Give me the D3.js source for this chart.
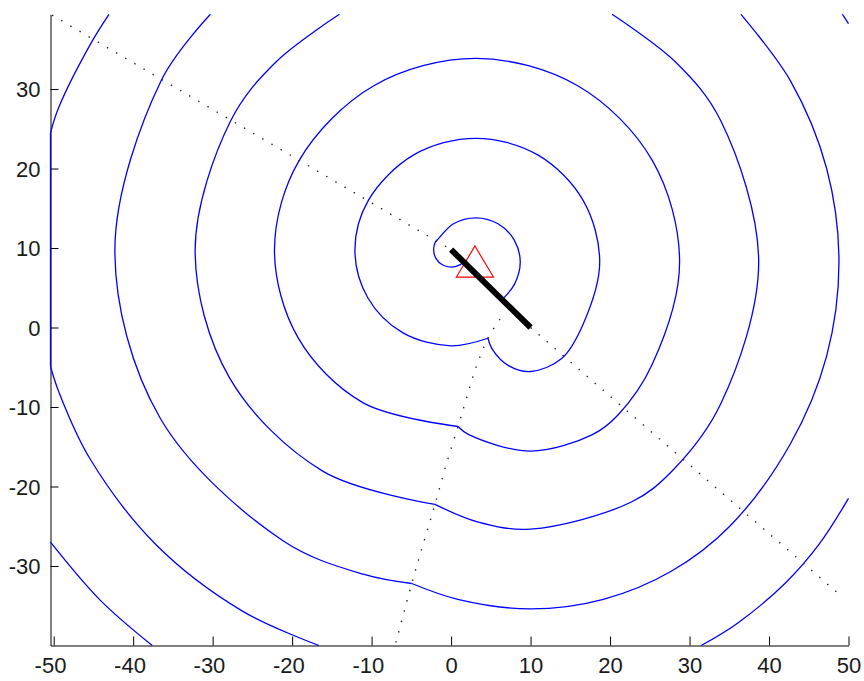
<!DOCTYPE html>
<html>
<head>
<meta charset="utf-8">
<script src="https://cdn.jsdelivr.net/npm/d3@7"></script>
<style>
  html, body { margin: 0; padding: 0; background: #fff; }
  svg { display: block; }
</style>
</head>
<body>
<svg id="chart" width="864" height="681"></svg>
<script>
// ---------------- data ----------------
const xLimits = [-50.4, 50];
const yLimits = [-40, 39.4];
const xTicks = [-50, -40, -30, -20, -10, 0, 10, 20, 30, 40, 50];
const yTicks = [-30, -20, -10, 0, 10, 20, 30];

// thick black segment
const faultLine = [[0, 9.8], [10, 0]];
// red triangle marker
const sourcePoint = [3, 8.3];

// dotted lines
const dottedUpper = [[-50.2, 39.3], [0, 9.8]];
const dottedLowerRight = [[10, 0], [49, -33.7]];
const dottedLower = [[6.15, 1.05], [4.64, -1.35], [3.0, -5.4], [1.87, -9.15], [0.87, -12.45],
  [-0.64, -17.3], [-2.03, -22.25], [-3.5, -27.2], [-4.95, -32.2], [-6.93, -39.6]];

// blue contour lines (each contour = list of pieces)
const contour1 = [[
  [6.35, 3.45], [7.95, 5.4], [8.7, 8.2], [7.95, 11.0], [5.9, 13.05], [3.1, 13.8], [0.3, 13.05],
  [-1.75, 11.0], [-1.95, 10.81], [-2.2, 9.8], [-1.91, 8.7], [-1.1, 7.89], [0, 7.6], [1.1, 7.89], [1.56, 8.24]
]];
const contour2 = [[
  [4.64, -1.35], [0, -2.3], [-6.05, -0.68], [-10.48, 3.75], [-12.1, 9.8], [-10.41, 16.0], [-4.7, 21.71],
  [3.1, 23.8], [10.9, 21.71], [16.61, 16.0], [18.7, 8.2], [16.61, 0.4], [13.91, -3.91], [10, -5.53],
  [7.23, -4.79], [5.21, -2.77], [4.64, -1.35]
]];
const contour3 = [[
  [0.87, -12.45], [-11.11, -9.44], [-19.24, -1.31], [-22.22, 9.8], [-19.11, 21.03], [-9.73, 30.41],
  [3.1, 33.85], [15.93, 30.41], [25.31, 21.03], [28.75, 8.2], [25.31, -4.63], [21.0, -11.0],
  [17.78, -13.47], [10, -15.55], [2.23, -13.47], [0.87, -12.45]
]];
const contour4 = [
  [[20.25, 39.4], [28.27, 33.37], [33.93, 26.0], [38.7, 8.2], [33.93, -9.6], [27.93, -17.93],
   [22.68, -21.95], [10, -25.35], [3.44, -24.49], [-2.03, -22.25]],
  [[-2.03, -22.25], [-16.1, -18.09], [-27.89, -6.3], [-32.2, 9.8], [-27.73, 26.0], [-22.07, 33.37],
   [-14.05, 39.4]]
];
const contour5 = [
  [[36.47, 39.4], [42.68, 31.05], [47.24, 20.03], [48.8, 8.2], [47.24, -3.63], [42.68, -14.65],
   [35.03, -25.03], [27.7, -30.66], [19.16, -34.19], [10, -35.4], [0.84, -34.19], [-4.95, -32.2]],
  [[-4.95, -32.2], [-10.95, -31.06], [-21.15, -26.83], [-36.63, -11.35], [-42.3, 9.8],
   [-36.48, 31.05], [-30.27, 39.4]]
];
const contour6 = [
  [[-43.04, 39.4], [-45.14, 36.05], [-49.33, 27.76], [-50.4, 24.5]],
  [[-50.4, 24.5], [-50.4, -4.9]],
  [[-50.4, -4.9], [-49.33, -8.16], [-45.47, -16.45], [-37.12, -27.32], [-26.25, -35.67], [-16.62, -40]],
  [[49.24, 39.4], [50, 38.23]],
  [[50, -21.5], [46.26, -27.32], [42.1, -32.1], [36.04, -37.19], [31.47, -40]]
];
const contour7 = [
  [[-50.4, -26.99], [-44.12, -34.32], [-37.6, -40]]
];
const contours = [contour1, contour2, contour3, contour4, contour5, contour6, contour7];

// ---------------- drawing ----------------
const svg = d3.select("#chart");
svg.append("rect").attr("width", 864).attr("height", 681).attr("fill", "#fff");

const x = d3.scaleLinear().domain(xLimits).range([50.5, 848.5]);
const y = d3.scaleLinear().domain(yLimits).range([645.5, 14.3]);

const fontFamily = "'Liberation Sans', Arial, Helvetica, sans-serif";

// axes (MATLAB style: ticks inward, no box)
const gx = svg.append("g").attr("transform", "translate(0,645.5)")
  .call(d3.axisBottom(x).tickValues(xTicks).tickSize(-9).tickSizeOuter(0).tickPadding(12)
        .tickFormat(d => String(d)));
const gy = svg.append("g").attr("transform", "translate(50.5,0)")
  .call(d3.axisLeft(y).tickValues(yTicks).tickSize(-8).tickSizeOuter(0).tickPadding(10)
        .tickFormat(d => String(d)));
[gx, gy].forEach(g => {
  g.select(".domain").attr("stroke", "#000").attr("stroke-width", 1);
  g.selectAll(".tick line").attr("stroke", "#000").attr("stroke-width", 1);
  g.selectAll(".tick text").attr("fill", "#1a1a1a").attr("font-size", 22)
    .attr("font-family", fontFamily);
});
gx.selectAll(".tick text").attr("dx", d => d < 0 ? -3.7 : 0);
gy.selectAll(".tick text").attr("dy", "0.36em");

const smooth = d3.line().x(d => x(d[0])).y(d => y(d[1])).curve(d3.curveCatmullRom.alpha(0.5));
const straight = d3.line().x(d => x(d[0])).y(d => y(d[1]));

// contours
const gc = svg.append("g");
contours.forEach(c => {
  c.forEach(piece => {
    gc.append("path").attr("d", smooth(piece)).attr("fill", "none")
      .attr("stroke", "#0000ff").attr("stroke-width", 1.3).attr("stroke-linejoin", "round");
  });
});

// dotted lines
[dottedUpper, dottedLowerRight, dottedLower].forEach(dl => {
  svg.append("path").attr("d", smooth(dl)).attr("fill", "none")
    .attr("stroke", "#222").attr("stroke-width", 1.4).attr("stroke-dasharray", "1.4 9.2");
});

// triangle marker
const cx = x(sourcePoint[0]), cy = y(sourcePoint[1]);
svg.append("path")
  .attr("d", `M${cx},${cy - 15.5} L${cx + 18.5},${cy + 15.5} L${cx - 18.5},${cy + 15.5} Z`)
  .attr("fill", "none").attr("stroke", "#ff0000").attr("stroke-width", 1.2);

// thick fault line
svg.append("path").attr("d", straight(faultLine)).attr("fill", "none")
  .attr("stroke", "#000").attr("stroke-width", 6).attr("stroke-linecap", "butt");
</script>
</body>
</html>
